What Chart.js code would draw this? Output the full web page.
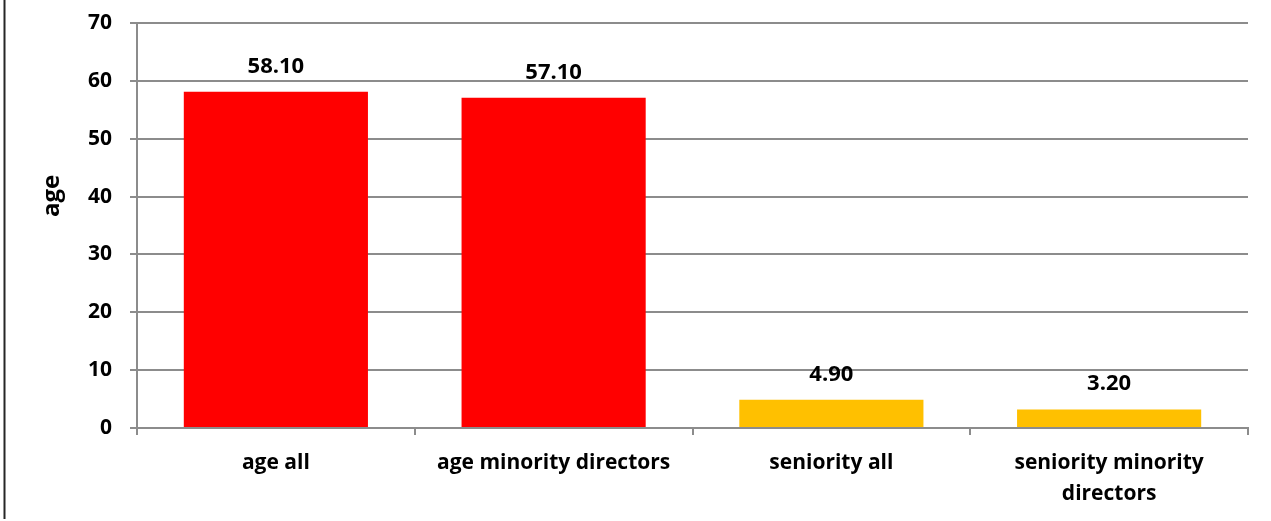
<!DOCTYPE html>
<html>
<head>
<meta charset="utf-8">
<script src="https://cdn.jsdelivr.net/npm/chart.js@4/dist/chart.umd.min.js"></script>
<style>
  html, body { margin: 0; padding: 0; background: #fff; }
  #wrap { width: 1271px; height: 521px; position: relative; }
</style>
</head>
<body>
<div id="wrap"><canvas id="ageChart"></canvas></div>
<script>
// chart data
const categories = ["age all", "age minority directors", "seniority all", ["seniority minority", "directors"]];
const values = [58.10, 57.10, 4.90, 3.20];
const barColors = ["#FF0000", "#FF0000", "#FFC000", "#FFC000"];
const yTicks = [0, 10, 20, 30, 40, 50, 60, 70];
const yTitle = "age";

const FONT = "'Open Sans', sans-serif";

// value labels above bars, y title and the left frame line
const extras = {
    id: "extras",
    afterDatasetsDraw(chart) {
        const ctx = chart.ctx;
        const meta = chart.getDatasetMeta(0);
        ctx.save();
        ctx.fillStyle = "#000";
        ctx.font = "bold 22px " + FONT;
        ctx.textAlign = "center";
        ctx.textBaseline = "alphabetic";
        meta.data.forEach(function (bar, i) {
            ctx.fillText(values[i].toFixed(2), bar.x, bar.y - 19);
        });

        // y axis title
        ctx.font = "bold 24px " + FONT;
        ctx.translate(59, 196);
        ctx.rotate(-Math.PI / 2);
        ctx.textAlign = "center";
        ctx.fillText(yTitle, 0, 0);
        ctx.restore();

        // frame line on the left
        ctx.save();
        ctx.strokeStyle = "#262626";
        ctx.lineWidth = 2;
        ctx.beginPath();
        ctx.moveTo(4.5, 0);
        ctx.lineTo(4.5, 519);
        ctx.stroke();
        ctx.restore();
    }
};

let ctx = document.getElementById("ageChart").getContext("2d");
new Chart(ctx, {
    type: "bar",
    data: {
        labels: categories,
        datasets: [{
            data: values,
            backgroundColor: barColors,
            borderWidth: 0,
            barPercentage: 0.663,
            categoryPercentage: 1.0
        }]
    },
    options: {
        responsive: true,
        maintainAspectRatio: false,
        animation: false,
        layout: { padding: { top: 23, right: 23, left: 0, bottom: 0 } },
        plugins: {
            legend: { display: false },
            tooltip: { enabled: false }
        },
        scales: {
            x: {
                offset: true,
                grid: {
                    offset: true,
                    drawOnChartArea: false,
                    drawTicks: true,
                    tickLength: 7,
                    color: "#8c8c8c",
                    lineWidth: 2
                },
                border: { color: "#8c8c8c", width: 2 },
                ticks: {
                    color: "#000",
                    padding: 12,
                    maxRotation: 0,
                    autoSkip: false,
                    font: { family: FONT, size: 21, weight: "bold", lineHeight: 1.5 }
                },
                afterFit(scale) {
                    scale.height = 93;
                    scale.paddingLeft = 0;
                    scale.paddingRight = 0;
                }
            },
            y: {
                min: 0,
                max: 70,
                afterBuildTicks(scale) {
                    scale.ticks = yTicks.map(v => ({ value: v }));
                },
                grid: {
                    color: "#8c8c8c",
                    lineWidth: 2,
                    tickLength: 7
                },
                border: { color: "#8c8c8c", width: 2 },
                ticks: {
                    color: "#000",
                    padding: 18,
                    font: { family: FONT, size: 21, weight: "bold" }
                },
                afterFit(scale) {
                    scale.width = 137;
                    scale.paddingTop = 0;
                    scale.paddingBottom = 0;
                }
            }
        }
    },
    plugins: [extras]
});
</script>
</body>
</html>
